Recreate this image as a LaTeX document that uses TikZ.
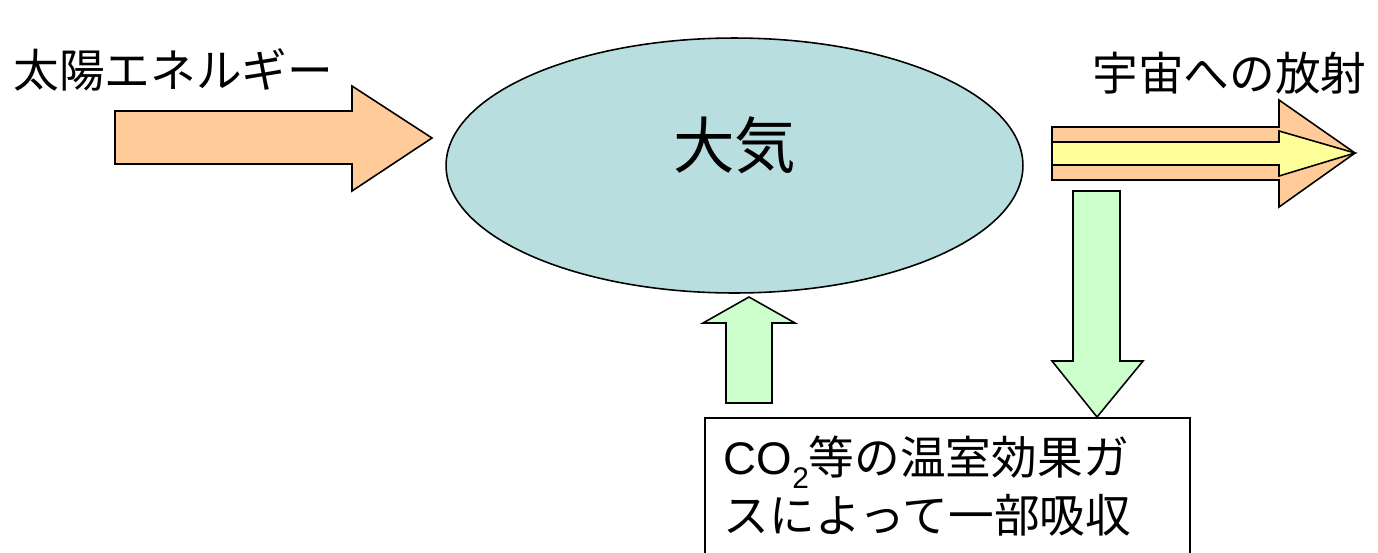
\documentclass[tikz,border=0pt]{standalone}
\usepackage{fontspec}
\setmainfont{Noto Sans CJK JP}
\newfontfamily\latinfont{Liberation Sans}
\usepackage{tikz}
\usetikzlibrary{shapes.geometric, positioning}
\definecolor{sunorange}{RGB}{255, 204, 153}
\definecolor{airblue}{RGB}{184, 222, 224}
\definecolor{gasgreen}{RGB}{204, 255, 204}
\definecolor{rayyellow}{RGB}{255, 255, 153}

\begin{document}
\begin{tikzpicture}[
  x=0.02cm, y=-0.02cm,
  atmos/.style={ellipse, draw=black, fill=airblue, line width=0.9pt, inner sep=0pt,
                minimum width=11.54cm, minimum height=5.1cm},
  bigtext/.style={inner sep=0pt, font=\fontsize{35pt}{40pt}\selectfont},
  labeltext/.style={inner sep=0pt, font=\fontsize{26pt}{30pt}\selectfont},
  gasbox/.style={rectangle, draw=black, fill=white, line width=0.9pt, anchor=north west,
                 text width=8.94cm, inner xsep=0.38cm, inner ysep=0.36cm, align=left,
                 font=\fontsize{26pt}{33pt}\selectfont},
  blockarrow/.style={draw=black, line width=0.9pt, line join=miter}
]
\useasboundingbox (0,0) rectangle (1378,552);

% Atmosphere
\node[atmos] (air) at (734.5,165.5) {};
\node[bigtext] (airtext) at ([yshift=0.40cm]air.center) {大気};

% Labels
\node[labeltext, anchor=west] (sunlabel) at (13,70) {太陽エネルギー};
\node[labeltext, anchor=east] (spacelabel) at (1367,73) {宇宙への放射};

% Incoming sunlight
\draw[blockarrow, fill=sunorange] (115,111) -- (352,111) -- (352,86) -- (432,138)
  -- (352,191) -- (352,164) -- (115,164) -- cycle;

% Outgoing radiation
\draw[blockarrow, fill=sunorange] (1052,127) -- (1279,127) -- (1279,100) -- (1355,153)
  -- (1279,207) -- (1279,180) -- (1052,180) -- cycle;
\draw[blockarrow, fill=rayyellow] (1052,142) -- (1279,142) -- (1279,131) -- (1355,153)
  -- (1279,176) -- (1279,165) -- (1052,165) -- cycle;

% Greenhouse gas box
\node[gasbox] (gas) at (704,417) {{\latinfont CO\raisebox{-0.3em}{\fontsize{17pt}{17pt}\selectfont 2}}等の温室効果ガ\\スによって一部吸収};

% Absorption and return
\draw[blockarrow, fill=gasgreen] (1073,191) -- (1120,191) -- (1120,361) -- (1143,361)
  -- (1097,417) -- (1052,361) -- (1073,361) -- cycle;
\draw[blockarrow, fill=gasgreen] (726,403) -- (772,403) -- (772,323) -- (795,323)
  -- (749,297) -- (703,323) -- (726,323) -- cycle;

\end{tikzpicture}
\end{document}
